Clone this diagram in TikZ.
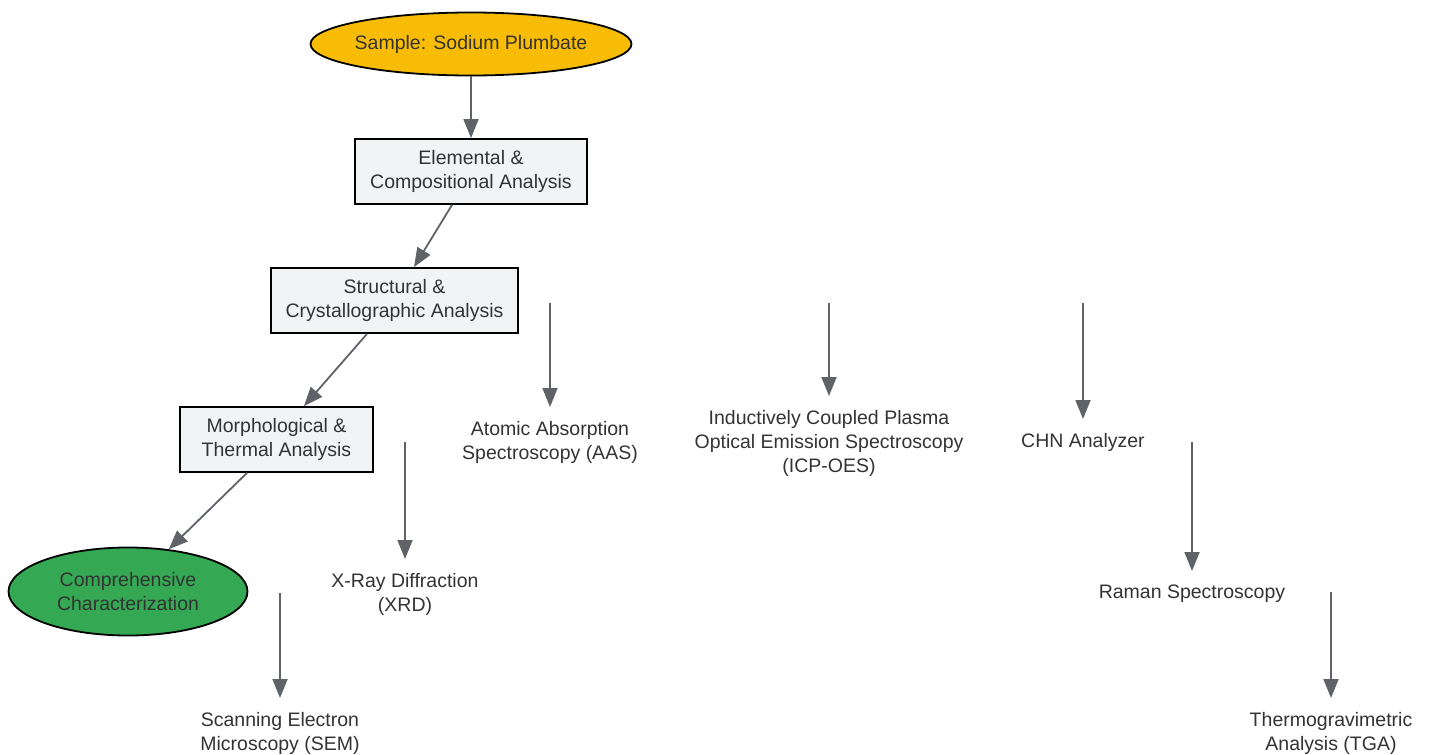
\documentclass[tikz,border=0pt]{standalone}
\usepackage{fontspec}
\setmainfont{Liberation Sans}
\usetikzlibrary{shapes.geometric,arrows.meta,calc}
\definecolor{txt}{HTML}{333333}
\definecolor{lnc}{HTML}{5F6368}
\definecolor{boxfill}{HTML}{F1F3F4}
\definecolor{gold}{HTML}{F9BC05}
\definecolor{grn}{HTML}{34A853}
\begin{document}
\begin{tikzpicture}[x=1pt,y=-1pt,
  every node/.style={font=\fontsize{19.5pt}{24pt}\selectfont, text=txt, align=center},
  procbox/.style={draw=black, line width=1.8pt, fill=boxfill, inner sep=0pt, minimum height=65pt},
  oval/.style={ellipse, draw=black, line width=1.8pt, inner sep=0pt},
  lbl/.style={anchor=north, inner xsep=0pt, inner ysep=14pt},
  arr/.style={draw=lnc, line width=1.8pt, -{Triangle[length=19pt,width=15pt]}}
]
\path[fill=white, use as bounding box] (0,0) rectangle (1430,755);

\node[oval, fill=gold, inner xsep=-4pt, minimum width=321pt, minimum height=63pt] (sample) at (471,44) {Sample: Sodium Plumbate};
\node[procbox, minimum width=232pt] (elem) at (471,171.5) {Elemental \&\\Compositional Analysis};
\node[procbox, minimum width=247pt] (struct) at (394.5,300.5) {Structural \&\\Crystallographic Analysis};
\node[procbox, minimum width=193pt] (morph) at (276.5,439.5) {Morphological \&\\Thermal Analysis};
\node[oval, fill=grn, minimum width=239pt, minimum height=88pt] (comp) at (128,591.5) {Comprehensive\\Characterization};

\node[lbl] (aas) at (550,407) {Atomic Absorption\\Spectroscopy (AAS)};
\node[lbl] (icp) at (829,396) {Inductively Coupled Plasma\\Optical Emission Spectroscopy\\(ICP-OES)};
\node[lbl] (chn) at (1083,419) {CHN Analyzer};
\node[lbl] (raman) at (1192,571) {Raman Spectroscopy};
\node[lbl] (tga) at (1331,698) {Thermogravimetric\\Analysis (TGA)};
\node[lbl] (xrd) at (405,559) {X-Ray Diffraction\\(XRD)};
\node[lbl] (sem) at (280,698) {Scanning Electron\\Microscopy (SEM)};

\coordinate (aasS) at (550,303);
\coordinate (icpS) at (829,303);
\coordinate (chnS) at (1083,303);
\coordinate (ramanS) at (1192,442);
\coordinate (tgaS) at (1331,592);
\coordinate (xrdS) at (405,442);
\coordinate (semS) at (280,593);

\draw[arr] (sample) -- (elem);
\draw[arr] ($(elem.south)+(-19,0)$) -- ($(struct.north)+(19.5,0)$);
\draw[arr] ($(struct.south)+(-27.5,0)$) -- ($(morph.north)+(27.5,0)$);
\draw[arr] ($(morph.south)+(-29.5,0)$) -- (comp.46);

\draw[arr] (aasS) -- (aas);
\draw[arr] (icpS) -- (icp);
\draw[arr] (chnS) -- (chn);
\draw[arr] (ramanS) -- (raman);
\draw[arr] (tgaS) -- (tga);
\draw[arr] (xrdS) -- (xrd);
\draw[arr] (semS) -- (sem);
\end{tikzpicture}
\end{document}
